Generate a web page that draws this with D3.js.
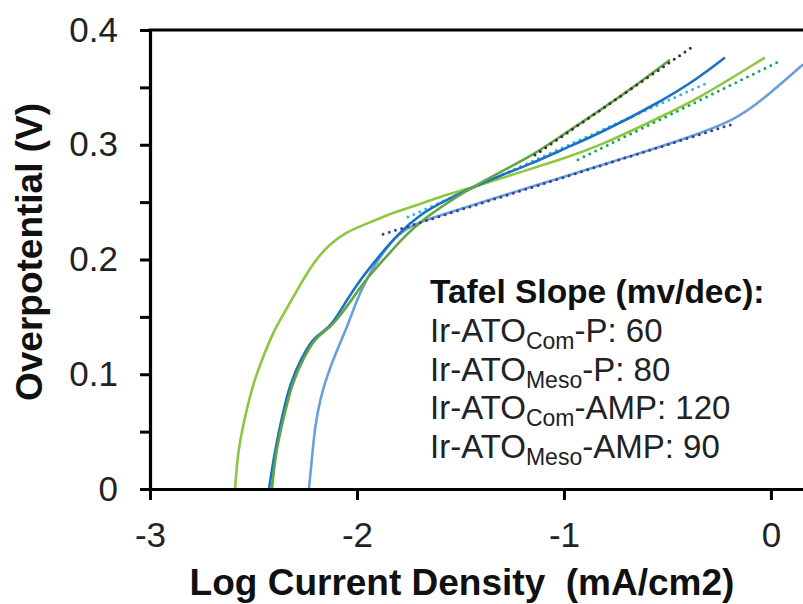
<!DOCTYPE html>
<html>
<head>
<meta charset="utf-8">
<script src="https://cdn.jsdelivr.net/npm/d3@7"></script>
<style>
	body { margin: 0; background: #fff; }
	svg { display: block; font-family: "Liberation Sans", Arial, sans-serif; }
</style>
</head>
<body>
<div id="chart"></div>
<script>
/**
 * Data
 */
var xTicks = [-3, -2, -1, 0];
var yTicks = [0, 0.1, 0.2, 0.3, 0.4];
var yMinorTicks = [0.05, 0.15, 0.25, 0.35];

// Ir-ATO Meso-AMP (light green)
var meAmpX = [-2.589, -2.575, -2.541, -2.502, -2.454, -2.406, -2.372, -2.290, -2.213, -2.130, -2.048, -1.971, -1.889, -1.807, -1.696, -1.599, -1.454, -1.213, -1.019, -0.826, -0.536, -0.343, -0.029];
var meAmpY = [0, 0.034, 0.063, 0.092, 0.115, 0.136, 0.147, 0.173, 0.197, 0.214, 0.224, 0.230, 0.236, 0.242, 0.248, 0.255, 0.262, 0.276, 0.287, 0.299, 0.324, 0.341, 0.376];

// Ir-ATO Com-AMP (dark green)
var coAmpX = [-2.411, -2.391, -2.353, -2.314, -2.256, -2.203, -2.159, -2.116, -2.024, -1.961, -1.865, -1.768, -1.671, -1.575, -1.454, -1.309, -1.150, -1.019, -0.826, -0.696, -0.488];
var coAmpY = [0, 0.034, 0.063, 0.092, 0.115, 0.131, 0.137, 0.143, 0.165, 0.182, 0.201, 0.221, 0.236, 0.248, 0.262, 0.276, 0.291, 0.307, 0.330, 0.346, 0.374];

// Ir-ATO Meso-P (dark blue)
var meP_X = [-2.425, -2.396, -2.362, -2.324, -2.266, -2.213, -2.164, -2.121, -2.048, -1.986, -1.889, -1.792, -1.696, -1.599, -1.454, -1.309, -1.150, -1.019, -0.826, -0.536, -0.343, -0.222];
var meP_Y = [0, 0.034, 0.063, 0.092, 0.115, 0.131, 0.137, 0.143, 0.165, 0.182, 0.204, 0.224, 0.239, 0.249, 0.262, 0.273, 0.284, 0.295, 0.310, 0.337, 0.359, 0.376];

// Ir-ATO Com-P (light blue)
var coP_X = [-2.232, -2.217, -2.203, -2.179, -2.140, -2.097, -2.048, -2.000, -1.971, -1.923, -1.865, -1.816, -1.768, -1.696, -1.551, -1.309, -1.019, -0.826, -0.536, -0.343, -0.184, -0.053, 0.155];
var coP_Y = [0, 0.028, 0.054, 0.078, 0.101, 0.121, 0.141, 0.165, 0.176, 0.193, 0.208, 0.219, 0.226, 0.233, 0.241, 0.255, 0.271, 0.282, 0.298, 0.310, 0.321, 0.337, 0.370];

// Tafel fits (end points)
var fitCoAmpX = [-1.140, -0.382], fitCoAmpY = [0.291, 0.385];
var fitMePX = [-1.754, -0.319], fitMePY = [0.237, 0.353];
var fitMeAmpX = [-0.932, 0.034], fitMeAmpY = [0.287, 0.372];
var fitCoPX = [-1.874, -0.184], fitCoPY = [0.222, 0.318];

// Legend
var legendTitle = "Tafel Slope (mv/dec):";
var legendRows = [
	{ pre: "Ir-ATO", sub: "Com", post: "-P: 60" },
	{ pre: "Ir-ATO", sub: "Meso", post: "-P: 80" },
	{ pre: "Ir-ATO", sub: "Com", post: "-AMP: 120" },
	{ pre: "Ir-ATO", sub: "Meso", post: "-AMP: 90" }
];

/**
 * Helpers
 */
function zipPoints(xs, ys) {
	return xs.map(function(v, i) { return [v, ys[i]]; });
}

/**
 * Layout
 */
var W = 803, H = 604;
var plot = { left: 150, right: 803, top: 30, bottom: 489 };

var x = d3.scaleLinear().domain([-3, 0.155]).range([plot.left, plot.right]);
var y = d3.scaleLinear().domain([0, 0.4]).range([plot.bottom, plot.top]);

var svg = d3.select("#chart").append("svg")
	.attr("width", W)
	.attr("height", H);

svg.append("clipPath").attr("id", "clip")
	.append("rect")
	.attr("x", plot.left).attr("y", plot.top - 5)
	.attr("width", plot.right - plot.left).attr("height", plot.bottom - plot.top + 5);

// Curves
var curveLine = d3.line()
	.x(function(d) { return x(d[0]); })
	.y(function(d) { return y(d[1]); })
	.curve(d3.curveBasis);

var fitLine = d3.line()
	.x(function(d) { return x(d[0]); })
	.y(function(d) { return y(d[1]); });

var marks = svg.append("g").attr("clip-path", "url(#clip)");

function drawFit(xs, ys, color) {
	marks.append("path")
		.datum(zipPoints(xs, ys))
		.attr("d", fitLine)
		.attr("fill", "none")
		.attr("stroke", color)
		.attr("stroke-width", 3)
		.attr("stroke-linecap", "round")
		.attr("stroke-dasharray", "0 6.5");
}

function drawCurve(xs, ys, color) {
	marks.append("path")
		.datum(zipPoints(xs, ys))
		.attr("d", curveLine)
		.attr("fill", "none")
		.attr("stroke", color)
		.attr("stroke-width", 2.6)
		.attr("stroke-linejoin", "round");
}

drawFit(fitMePX, fitMePY, "#3bb2e6");
drawCurve(coP_X, coP_Y, "#6a9fda");
drawCurve(meAmpX, meAmpY, "#8dc63f");
drawCurve(meP_X, meP_Y, "#1a72c2");
drawCurve(coAmpX, coAmpY, "#63a543");
drawFit(fitCoAmpX, fitCoAmpY, "#333333");
drawFit(fitMeAmpX, fitMeAmpY, "#20a65a");
drawFit(fitCoPX, fitCoPY, "#3c3f8f");

// Axes
var fontFamily = '"Liberation Sans", Arial, sans-serif';

var yAxis = svg.append("g")
	.attr("transform", "translate(" + plot.left + ",0)")
	.call(d3.axisLeft(y).tickValues(yTicks).tickSize(10).tickSizeOuter(0).tickPadding(22)
		.tickFormat(function(d) { return d === 0 ? "0" : d.toFixed(1); }));

svg.append("g")
	.attr("transform", "translate(" + plot.left + ",0)")
	.call(d3.axisLeft(y).tickValues(yMinorTicks).tickSize(10).tickSizeOuter(0).tickFormat(""))
	.call(function(g) { g.select(".domain").remove(); })
	.selectAll("line").attr("stroke-width", 3);

var xAxis = svg.append("g")
	.attr("transform", "translate(0," + plot.bottom + ")")
	.call(d3.axisBottom(x).tickValues(xTicks).tickSize(11).tickSizeOuter(0).tickPadding(22)
		.tickFormat(function(d) { return String(d); }));

[yAxis, xAxis].forEach(function(g) {
	g.select(".domain").attr("stroke-width", 3.2);
	g.selectAll(".tick line").attr("stroke-width", 3);
	g.selectAll(".tick text")
		.attr("font-family", fontFamily)
		.attr("font-size", 35)
		.attr("fill", "#222");
});

// Top frame line
svg.append("line")
	.attr("x1", plot.left - 1.5).attr("x2", plot.right)
	.attr("y1", y(0.4)).attr("y2", y(0.4))
	.attr("stroke", "#000")
	.attr("stroke-width", 3.2);

// Axis titles
svg.append("text")
	.attr("x", 462).attr("y", 595)
	.attr("text-anchor", "middle")
	.attr("font-weight", "bold")
	.attr("font-size", 37)
	.attr("fill", "#111")
	.text("Log Current Density\u00a0 (mA/cm2)");

svg.append("text")
	.attr("transform", "translate(42,252) rotate(-90)")
	.attr("text-anchor", "middle")
	.attr("font-weight", "bold")
	.attr("font-size", 37)
	.attr("fill", "#111")
	.text("Overpotential (V)");

// Legend text
var legend = svg.append("g").attr("transform", "translate(430,0)");

legend.append("text")
	.attr("x", 0).attr("y", 303)
	.attr("font-weight", "bold")
	.attr("font-size", 33.5)
	.attr("fill", "#111")
	.text(legendTitle);

legendRows.forEach(function(row, i) {
	var t = legend.append("text")
		.attr("x", 0).attr("y", 342 + i * 38.5)
		.attr("font-size", 33)
		.attr("fill", "#222");
	t.append("tspan").text(row.pre);
	t.append("tspan").attr("font-size", 23).attr("dy", 7).text(row.sub);
	t.append("tspan").attr("dy", -7).text(row.post);
});
</script>
</body>
</html>
